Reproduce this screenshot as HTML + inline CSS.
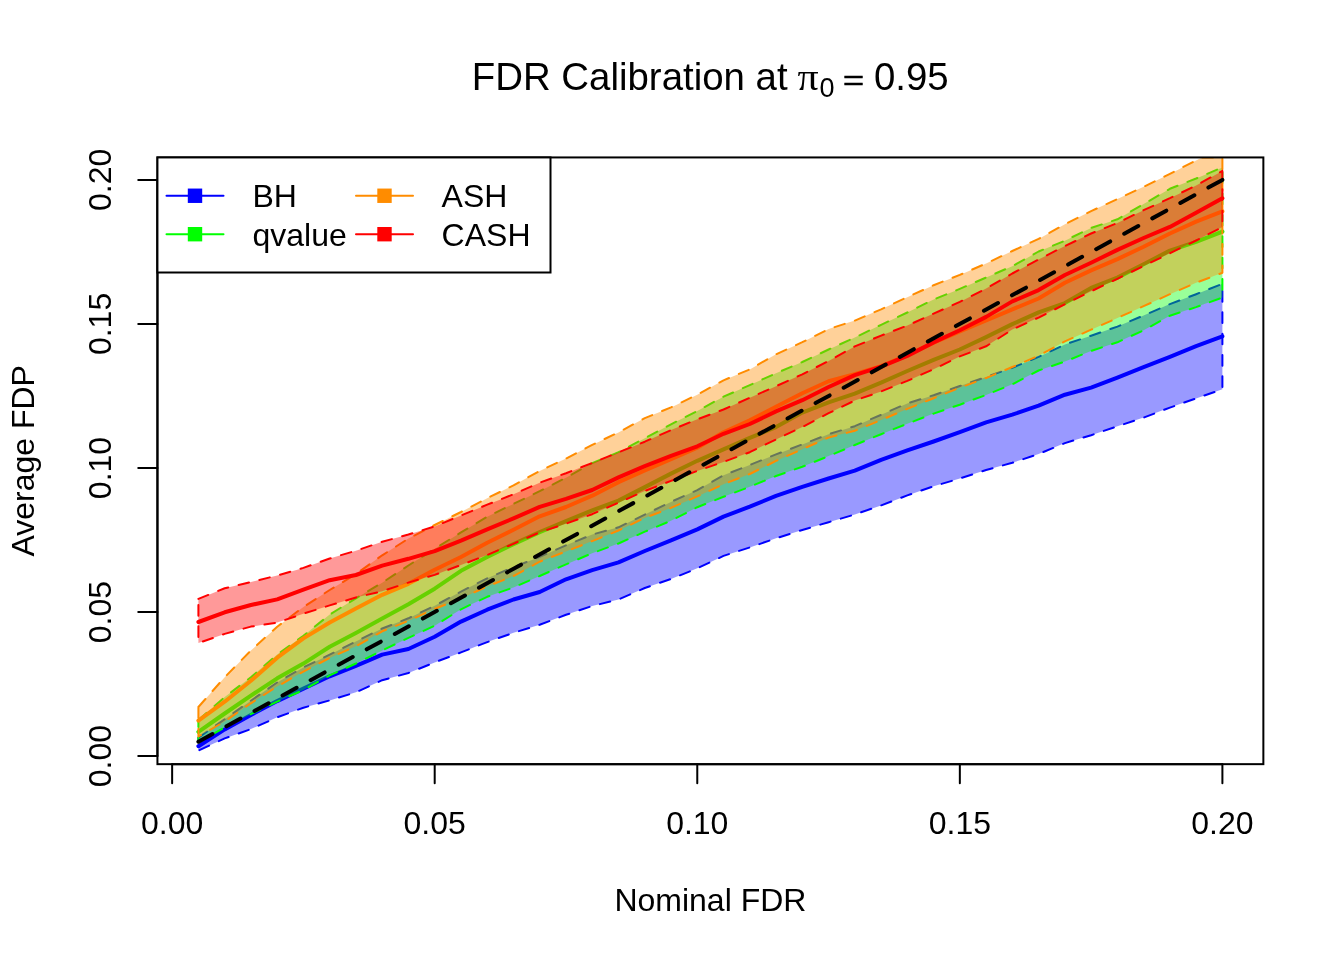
<!DOCTYPE html>
<html lang="en"><head><meta charset="utf-8"><title>FDR Calibration</title>
<style>html,body{margin:0;padding:0;background:#fff;}body{width:1344px;height:960px;overflow:hidden;}svg{display:block;}text{font-family:"Liberation Sans", sans-serif;fill:#000;}</style></head><body>
<svg width="1344" height="960" viewBox="0 0 1344 960">
<rect x="0" y="0" width="1344" height="960" fill="#fff"/>
<defs><clipPath id="plt"><rect x="157.44" y="157.44" width="1105.92" height="606.72"/></clipPath></defs>
<g clip-path="url(#plt)" id="curves">
<path d="M198.4 737.6L224.7 719.2L250.9 700.7L277.2 682.4L303.4 667.4L329.7 654.7L355.9 641.5L382.2 628.5L408.4 618.3L434.7 605.8L461.0 591.6L487.2 578.3L513.5 567.1L539.7 556.9L566.0 545.3L592.2 534.6L618.5 527.3L644.8 514.6L671.0 501.9L697.3 490.1L723.5 475.3L749.8 465.0L776.0 454.4L802.3 444.4L828.6 434.2L854.8 426.2L881.1 414.8L907.3 403.4L933.6 395.2L959.8 386.0L986.1 377.0L1012.3 367.7L1038.6 356.9L1064.9 344.5L1091.1 335.7L1117.4 326.6L1143.6 315.5L1169.9 304.1L1196.1 294.2L1222.4 283.8L1222.4 389.3L1196.1 398.4L1169.9 407.6L1143.6 417.6L1117.4 426.3L1091.1 435.2L1064.9 443.1L1038.6 454.0L1012.3 462.8L986.1 470.0L959.8 478.5L933.6 486.3L907.3 495.4L881.1 505.4L854.8 514.5L828.6 522.2L802.3 530.0L776.0 538.3L749.8 547.4L723.5 555.9L697.3 568.3L671.0 579.0L644.8 588.0L618.5 599.5L592.2 606.0L566.0 614.8L539.7 624.8L513.5 632.8L487.2 642.1L461.0 652.4L434.7 662.4L408.4 673.0L382.2 680.2L355.9 692.3L329.7 700.4L303.4 707.7L277.2 717.3L250.9 729.1L224.7 738.4L198.4 750.6Z" fill="#0000ff" fill-opacity="0.4" stroke="#0000ff" stroke-width="2" stroke-dasharray="10.67 10.67" stroke-linecap="round" stroke-linejoin="round"/>
<path d="M198.4 746.2L224.7 729.4L250.9 715.0L277.2 701.1L303.4 688.6L329.7 676.3L355.9 665.8L382.2 654.6L408.4 649.0L434.7 636.8L461.0 621.6L487.2 609.7L513.5 599.5L539.7 592.0L566.0 579.3L592.2 570.2L618.5 562.4L644.8 551.0L671.0 540.3L697.3 529.4L723.5 516.6L749.8 506.7L776.0 495.9L802.3 486.8L828.6 478.5L854.8 470.7L881.1 459.8L907.3 450.4L933.6 441.5L959.8 432.1L986.1 422.3L1012.3 414.7L1038.6 405.7L1064.9 394.7L1091.1 387.6L1117.4 377.6L1143.6 367.1L1169.9 356.9L1196.1 346.1L1222.4 336.3" fill="none" stroke="#0000ff" stroke-width="4" stroke-linecap="round" stroke-linejoin="round"/>
<path d="M198.4 719.9L224.7 697.1L250.9 677.2L277.2 654.6L303.4 635.8L329.7 614.6L355.9 598.3L382.2 582.7L408.4 565.5L434.7 548.8L461.0 532.4L487.2 516.7L513.5 503.9L539.7 491.2L566.0 477.7L592.2 463.1L618.5 452.2L644.8 438.2L671.0 424.3L697.3 411.0L723.5 396.7L749.8 385.1L776.0 373.3L802.3 362.0L828.6 349.5L854.8 337.6L881.1 324.8L907.3 312.5L933.6 299.6L959.8 288.9L986.1 277.5L1012.3 266.2L1038.6 251.5L1064.9 240.7L1091.1 227.9L1117.4 219.3L1143.6 204.1L1169.9 188.8L1196.1 178.5L1222.4 167.4L1222.4 297.6L1196.1 307.1L1169.9 315.7L1143.6 330.3L1117.4 342.3L1091.1 350.9L1064.9 361.6L1038.6 370.5L1012.3 384.3L986.1 394.9L959.8 404.7L933.6 413.6L907.3 423.7L881.1 434.2L854.8 445.0L828.6 456.1L802.3 466.8L776.0 476.0L749.8 486.8L723.5 496.8L697.3 507.2L671.0 520.7L644.8 531.7L618.5 543.5L592.2 553.2L566.0 564.4L539.7 576.0L513.5 587.4L487.2 596.8L461.0 609.3L434.7 625.7L408.4 637.9L382.2 650.4L355.9 663.5L329.7 675.4L303.4 690.1L277.2 701.6L250.9 714.2L224.7 727.3L198.4 742.3Z" fill="#00ff00" fill-opacity="0.4" stroke="#00ff00" stroke-width="2" stroke-dasharray="10.67 10.67" stroke-linecap="round" stroke-linejoin="round"/>
<path d="M198.4 731.8L224.7 713.5L250.9 695.6L277.2 678.3L303.4 663.6L329.7 646.8L355.9 632.9L382.2 618.6L408.4 604.3L434.7 588.7L461.0 570.8L487.2 557.0L513.5 544.1L539.7 532.1L566.0 521.2L592.2 510.4L618.5 500.6L644.8 487.1L671.0 473.6L697.3 460.8L723.5 449.3L749.8 437.9L776.0 427.1L802.3 412.6L828.6 402.4L854.8 393.7L881.1 382.7L907.3 371.0L933.6 359.9L959.8 349.5L986.1 337.1L1012.3 324.1L1038.6 312.4L1064.9 303.1L1091.1 287.9L1117.4 277.6L1143.6 264.3L1169.9 250.6L1196.1 241.9L1222.4 231.6" fill="none" stroke="#00ff00" stroke-width="4" stroke-linecap="round" stroke-linejoin="round"/>
<path d="M198.4 707.0L224.7 677.3L250.9 650.5L277.2 626.7L303.4 607.0L329.7 590.0L355.9 574.1L382.2 555.3L408.4 538.6L434.7 525.0L461.0 512.0L487.2 498.2L513.5 485.3L539.7 471.0L566.0 458.6L592.2 444.9L618.5 432.4L644.8 418.1L671.0 407.4L697.3 394.7L723.5 380.3L749.8 369.4L776.0 354.3L802.3 342.2L828.6 329.1L854.8 320.6L881.1 309.3L907.3 297.2L933.6 285.2L959.8 274.9L986.1 263.5L1012.3 251.0L1038.6 238.9L1064.9 224.3L1091.1 211.1L1117.4 199.1L1143.6 186.8L1169.9 173.9L1196.1 160.4L1201.9 157.4L1222.4 157.4L1222.4 272.8L1196.1 282.8L1169.9 294.2L1143.6 306.2L1117.4 318.0L1091.1 329.7L1064.9 341.4L1038.6 355.8L1012.3 367.0L986.1 378.1L959.8 387.7L933.6 398.2L907.3 408.9L881.1 420.0L854.8 430.8L828.6 437.6L802.3 449.2L776.0 460.9L749.8 474.0L723.5 484.2L697.3 496.4L671.0 507.9L644.8 517.9L618.5 530.5L592.2 541.1L566.0 551.4L539.7 561.7L513.5 576.1L487.2 586.4L461.0 598.4L434.7 608.9L408.4 620.9L382.2 631.3L355.9 646.3L329.7 657.9L303.4 671.6L277.2 686.5L250.9 703.3L224.7 721.5L198.4 736.5Z" fill="#ff8c00" fill-opacity="0.4" stroke="#ff8c00" stroke-width="2" stroke-dasharray="10.67 10.67" stroke-linecap="round" stroke-linejoin="round"/>
<path d="M198.4 720.6L224.7 701.7L250.9 680.8L277.2 657.7L303.4 638.4L329.7 622.5L355.9 608.6L382.2 594.8L408.4 583.8L434.7 569.7L461.0 557.0L487.2 542.8L513.5 529.8L539.7 516.3L566.0 507.0L592.2 495.7L618.5 482.2L644.8 470.5L671.0 459.2L697.3 447.7L723.5 432.3L749.8 420.2L776.0 406.7L802.3 393.2L828.6 381.2L854.8 374.2L881.1 366.1L907.3 355.3L933.6 342.7L959.8 331.3L986.1 320.5L1012.3 309.4L1038.6 298.5L1064.9 282.8L1091.1 270.4L1117.4 259.1L1143.6 246.7L1169.9 233.5L1196.1 221.6L1222.4 211.3" fill="none" stroke="#ff8c00" stroke-width="4" stroke-linecap="round" stroke-linejoin="round"/>
<path d="M198.4 598.9L224.7 588.3L250.9 582.0L277.2 575.5L303.4 567.9L329.7 558.5L355.9 550.7L382.2 541.8L408.4 534.5L434.7 526.4L461.0 515.5L487.2 504.7L513.5 494.3L539.7 482.7L566.0 473.2L592.2 463.0L618.5 452.4L644.8 441.7L671.0 430.1L697.3 419.3L723.5 409.5L749.8 397.8L776.0 386.2L802.3 374.3L828.6 361.0L854.8 346.4L881.1 335.6L907.3 325.6L933.6 313.6L959.8 301.9L986.1 288.6L1012.3 273.5L1038.6 259.5L1064.9 246.1L1091.1 233.5L1117.4 223.0L1143.6 210.2L1169.9 198.2L1196.1 185.5L1222.4 170.9L1222.4 227.0L1196.1 240.5L1169.9 253.3L1143.6 266.0L1117.4 278.8L1091.1 291.3L1064.9 304.3L1038.6 317.6L1012.3 329.5L986.1 346.3L959.8 356.4L933.6 369.2L907.3 380.9L881.1 391.5L854.8 400.5L828.6 413.2L802.3 427.0L776.0 439.4L749.8 452.2L723.5 461.9L697.3 470.9L671.0 480.9L644.8 491.0L618.5 502.7L592.2 514.2L566.0 523.7L539.7 532.4L513.5 543.8L487.2 555.0L461.0 565.0L434.7 574.9L408.4 582.6L382.2 591.2L355.9 597.5L329.7 605.4L303.4 613.7L277.2 622.6L250.9 626.6L224.7 633.9L198.4 643.0Z" fill="#ff0000" fill-opacity="0.4" stroke="#ff0000" stroke-width="2" stroke-dasharray="10.67 10.67" stroke-linecap="round" stroke-linejoin="round"/>
<path d="M198.4 622.0L224.7 612.3L250.9 605.0L277.2 599.4L303.4 589.7L329.7 580.2L355.9 575.0L382.2 565.6L408.4 558.8L434.7 551.2L461.0 540.7L487.2 529.3L513.5 518.4L539.7 506.9L566.0 498.9L592.2 490.0L618.5 477.4L644.8 466.1L671.0 455.8L697.3 446.3L723.5 433.8L749.8 424.0L776.0 411.4L802.3 400.2L828.6 387.0L854.8 375.1L881.1 366.7L907.3 355.9L933.6 342.4L959.8 330.2L986.1 316.9L1012.3 301.4L1038.6 290.1L1064.9 275.0L1091.1 262.7L1117.4 249.9L1143.6 238.0L1169.9 226.9L1196.1 212.8L1222.4 198.3" fill="none" stroke="#ff0000" stroke-width="4" stroke-linecap="round" stroke-linejoin="round"/>
<path d="M198.4 741.7L1222.4 179.9" fill="none" stroke="#000" stroke-width="4" stroke-dasharray="16 16" stroke-linecap="round"/>
</g>
<g stroke="#000" stroke-width="2" fill="none" stroke-linecap="round">
<path d="M172.14 764.16H1222.40"/>
<path d="M172.14 764.16v19.2"/>
<path d="M434.70 764.16v19.2"/>
<path d="M697.27 764.16v19.2"/>
<path d="M959.84 764.16v19.2"/>
<path d="M1222.40 764.16v19.2"/>
<path d="M157.44 756.09V179.91"/>
<path d="M157.44 756.09h-19.2"/>
<path d="M157.44 612.05h-19.2"/>
<path d="M157.44 468.00h-19.2"/>
<path d="M157.44 323.96h-19.2"/>
<path d="M157.44 179.91h-19.2"/>
<rect x="157.44" y="157.44" width="1105.92" height="606.72"/>
</g>
<text x="172.14" y="834" font-size="32" text-anchor="middle">0.00</text>
<text x="434.70" y="834" font-size="32" text-anchor="middle">0.05</text>
<text x="697.27" y="834" font-size="32" text-anchor="middle">0.10</text>
<text x="959.84" y="834" font-size="32" text-anchor="middle">0.15</text>
<text x="1222.40" y="834" font-size="32" text-anchor="middle">0.20</text>
<text transform="translate(110.5 756.09) rotate(-90)" font-size="32" text-anchor="middle">0.00</text>
<text transform="translate(110.5 612.05) rotate(-90)" font-size="32" text-anchor="middle">0.05</text>
<text transform="translate(110.5 468.00) rotate(-90)" font-size="32" text-anchor="middle">0.10</text>
<text transform="translate(110.5 323.96) rotate(-90)" font-size="32" text-anchor="middle">0.15</text>
<text transform="translate(110.5 179.91) rotate(-90)" font-size="32" text-anchor="middle">0.20</text>
<text x="710.40" y="911" font-size="32" text-anchor="middle">Nominal FDR</text>
<text transform="translate(34 460.80) rotate(-90)" font-size="32" text-anchor="middle">Average FDP</text>
<text x="471.8" y="90" font-size="38.4">FDR Calibration at</text>
<text transform="translate(797.4 90) scale(1.09 1)" font-size="38.4" style="font-family:'Liberation Serif',serif">π</text>
<text x="819.6" y="97.3" font-size="27">0</text>
<text transform="translate(843.1 90) scale(0.94 0.71)" font-size="38.4" stroke="#000" stroke-width="0.8">=</text>
<text x="873.9" y="90" font-size="38.4">0.95</text>
<rect x="157.44" y="157.44" width="393.06" height="115.06" fill="#fff" stroke="#000" stroke-width="2"/>
<path d="M166.50 195.75h57" stroke="#0000ff" stroke-width="2" stroke-linecap="round"/>
<rect x="187.80" y="188.55" width="14.4" height="14.4" fill="#0000ff"/>
<text x="252.50" y="207.25" font-size="32">BH</text>
<path d="M166.50 234.20h57" stroke="#00ff00" stroke-width="2" stroke-linecap="round"/>
<rect x="187.80" y="227.00" width="14.4" height="14.4" fill="#00ff00"/>
<text x="252.50" y="245.70" font-size="32">qvalue</text>
<path d="M356.00 195.75h57" stroke="#ff8c00" stroke-width="2" stroke-linecap="round"/>
<rect x="377.30" y="188.55" width="14.4" height="14.4" fill="#ff8c00"/>
<text x="441.60" y="207.25" font-size="32">ASH</text>
<path d="M356.00 234.20h57" stroke="#ff0000" stroke-width="2" stroke-linecap="round"/>
<rect x="377.30" y="227.00" width="14.4" height="14.4" fill="#ff0000"/>
<text x="441.60" y="245.70" font-size="32">CASH</text>
</svg></body></html>
